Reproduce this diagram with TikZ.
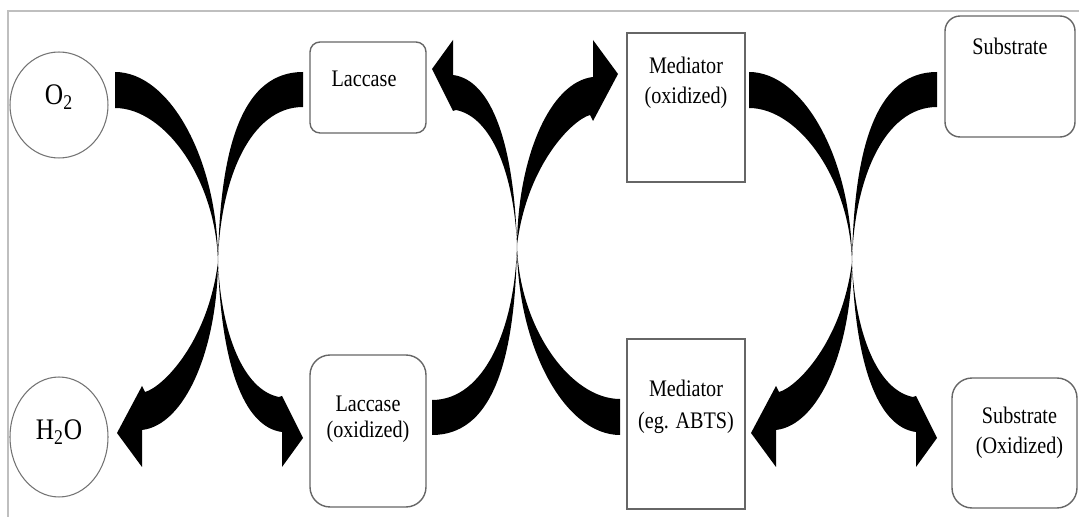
\documentclass[tikz,border=0pt]{standalone}
\usepackage{fontspec}
\setmainfont{Liberation Serif}[FakeStretch=0.85]
\usepackage{tikz}
\usetikzlibrary{shapes.geometric}

\begin{document}
\begin{tikzpicture}[x=0.02cm,y=-0.02cm,
  font=\fontsize{13.5}{17}\selectfont,
  mol node/.style={ellipse,draw=black!55,line width=0.6pt,minimum width=1.96cm,inner sep=0pt},
  mol text/.style={font=\fontsize{17}{20}\selectfont},
  box node/.style={rectangle,draw=black!60,line width=0.8pt,inner sep=0pt},
  txt/.style={align=center},
  redox/.pic={
    \fill (-103,-190) .. controls (-48,-190) and (0,-102) .. (0,0)
      .. controls (-2,-82) and (-53,-154) .. (-103,-154) -- cycle;
    \fill (85,-190) .. controls (27,-190) and (2,-122) .. (0,0)
      .. controls (2,-82) and (32,-155) .. (85,-155) -- cycle;
    \fill (0,0) .. controls (-1,88) and (-33,163) .. (-76,168) -- (-76,205) -- (-101,171)
      -- (-76,124) -- (-73,130) .. controls (-55,125) and (-10,80) .. (0,0) -- cycle;
    \fill (0,0) .. controls (3,70) and (25,128) .. (61,135) -- (64,134) -- (85,176)
      -- (64,205) -- (64,170) .. controls (25,165) and (3,100) .. (0,0) -- cycle;
  }]

  \useasboundingbox (0,0) rectangle (1079,526);
  \draw[black!25,line width=0.8pt] (8,517) -- (8,11) -- (1079,11);

  \node[mol node,minimum height=2.12cm,label={[mol text,yshift=0.16cm]center:O\textsubscript{2}}] (o2) at (59,105) {};
  \node[mol node,minimum height=2.4cm,label={[mol text,yshift=0.1cm]center:H\textsubscript{2}O}] (h2o) at (59,437) {};

  \node[box node,rounded corners=0.2cm,minimum width=2.32cm,minimum height=1.82cm,
    label={[xshift=-0.08cm,yshift=0.17cm]center:Laccase}] (lac) at (368,87.5) {};
  \node[box node,rounded corners=0.4cm,minimum width=2.32cm,minimum height=3.04cm,
    label={[txt,yshift=0.24cm]center:{Laccase\\[-2pt](oxidized)}}] (laco) at (368,431) {};
  \node[box node,minimum width=2.36cm,minimum height=2.98cm,
    label={[txt,yshift=0.5cm]center:{Mediator\\(oxidized)}}] (medo) at (686,107.5) {};
  \node[box node,minimum width=2.36cm,minimum height=3.4cm,
    label={[txt,yshift=0.34cm]center:{Mediator\\[1pt](eg. ABTS)}}] (med) at (686,424) {};
  \node[box node,rounded corners=0.3cm,minimum width=2.6cm,minimum height=2.42cm,
    label={[yshift=0.6cm]center:Substrate}] (sub) at (1010,76.5) {};
  \node[box node,rounded corners=0.4cm,minimum width=2.5cm,minimum height=2.6cm,
    label={[txt,xshift=0.1cm,yshift=0.2cm]center:{Substrate\\(Oxidized)}}] (subo) at (1014.5,443) {};

  \coordinate (p1) at (218,262);
  \coordinate (p2) at (517,245);
  \coordinate (p3) at (852,262);

  \pic at (p1) {redox};
  \pic[rotate=180] at (p2) {redox};
  \pic at (p3) {redox};
\end{tikzpicture}
\end{document}
